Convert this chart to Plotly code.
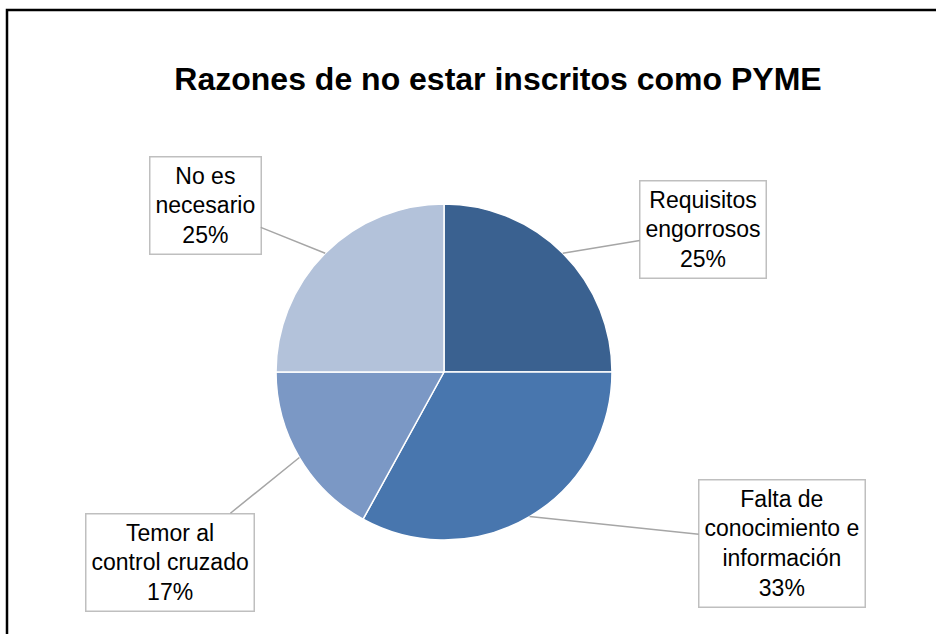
import numpy as np
import plotly.graph_objects as go

# ---- data ----
categories = ["Requisitos engorrosos", "Falta de conocimiento e información",
              "Temor al control cruzado", "No es necesario"]
label_lines = [["Requisitos", "engorrosos"],
               ["Falta de", "conocimiento e", "información"],
               ["Temor al", "control cruzado"],
               ["No es", "necesario"]]
values = [25, 33, 17, 25]
colors = ["#3A6190", "#4876AE", "#7B98C5", "#B3C2DA"]

# ---- layout settings ----
W, H = 936, 634
cx, cy, R = 444, 372, 168          # pie centre / radius in pixels
box_centres = [(703, 230), (782, 543), (170, 562), (205, 205)]
FONT = "Liberation Sans, Arial, sans-serif"

fig = go.Figure()
fig.add_trace(go.Pie(
    labels=categories, values=values, sort=False, direction="clockwise",
    rotation=0, marker=dict(colors=colors, line=dict(color="white", width=1.5)),
    textinfo="none", hoverinfo="skip", showlegend=False,
    domain=dict(x=[(cx - R) / W, (cx + R) / W],
                y=[1 - (cy + R) / H, 1 - (cy - R) / H]),
))

# label boxes with leader lines, tips computed from slice mid-angles
total = float(sum(values))
cum = np.cumsum([0] + values[:-1])
annotations = []
for i, v in enumerate(values):
    mid = 2 * np.pi * (cum[i] + v / 2) / total
    tx = cx + R * np.sin(mid)
    ty = cy - R * np.cos(mid)
    bx, by = box_centres[i]
    pct = f"{round(100 * v / total)}%"
    text = "<br>".join(label_lines[i] + [pct])
    annotations.append(dict(
        x=tx / W, y=1 - ty / H, xref="paper", yref="paper",
        ax=bx - tx, ay=by - ty, axref="pixel", ayref="pixel",
        text=text, showarrow=True, arrowhead=0, arrowwidth=1.5,
        arrowcolor="#A6A6A6", font=dict(family=FONT, size=23, color="black"),
        bordercolor="#BFBFBF", borderwidth=1.5, borderpad=5,
        bgcolor="white", align="center",
    ))

fig.update_layout(
    width=W, height=H, margin=dict(l=0, r=0, t=0, b=0),
    paper_bgcolor="white", plot_bgcolor="white",
    title=dict(text="<b>Razones de no estar inscritos como PYME</b>",
               x=498 / W, y=1 - 79 / H, xanchor="center", yanchor="middle",
               font=dict(family=FONT, size=32, color="black")),
    annotations=annotations,
    shapes=[dict(type="rect", xref="paper", yref="paper",
                 x0=7 / W, x1=1.05, y0=-0.05, y1=1 - 10 / H,
                 line=dict(color="black", width=2.5))],
)

fig.write_html(
    "out.html",
    config={"displayModeBar": False},
    post_script="document.body.style.margin='0';document.body.style.overflow='hidden';",
)
